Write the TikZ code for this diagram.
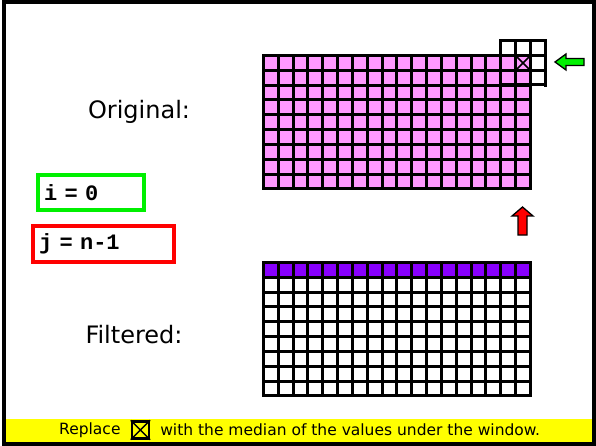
\documentclass[tikz,border=0pt]{standalone}
\usepackage{fontspec}
\setmainfont{DejaVu Sans}
\setmonofont{Liberation Mono}
\usetikzlibrary{positioning}
\definecolor{cellpink}{RGB}{255,153,255}
\definecolor{rowpurple}{RGB}{136,0,255}
\definecolor{boxgreen}{RGB}{0,240,0}
\definecolor{boxred}{RGB}{255,0,0}
\definecolor{baryellow}{RGB}{255,255,0}
\tikzset{
  gridline/.style={line width=3pt, line cap=rect},
  varbox/.style={draw=#1, line width=4pt, align=left, inner xsep=6pt, anchor=north west,
    font=\fontsize{22}{24}\selectfont\ttfamily\bfseries},
  caption/.style={font=\fontsize{24}{28}\selectfont},
  blockarrow/.style={draw=black, line width=1.3pt, line join=miter}
}
\newcommand{\cw}{14.83}

\begin{document}
\begin{tikzpicture}[x=1pt, y=-1pt]
    \useasboundingbox (0,0) rectangle (596,446);
    % frame and bottom bar
    \fill[baryellow] (6,419) rectangle (593,442);
    \draw[line width=4pt] (4,2.5) rectangle (594,444);
    % original image
    \fill[cellpink] (263.5,55.5) rectangle (530.5,188.5);
    \foreach \k in {0,...,18}
        \draw[gridline] ({263.5+round(\k*\cw)},55.5) -- ({263.5+round(\k*\cw)},188.5);
    \foreach \k in {0,...,9}
        \draw[gridline] (263.5,{55.5+round(\k*\cw)}) -- (530.5,{55.5+round(\k*\cw)});
    % window
    \foreach \k in {0,...,3}
        \draw[gridline] ({263.5+round((\k+16)*\cw)},40.5) -- ({263.5+round((\k+16)*\cw)},85.5);
    \foreach \k in {0,...,3}
        \draw[gridline] (500.5,{40.5+round(\k*\cw)}) -- (545.5,{40.5+round(\k*\cw)});
    \draw[line width=1.5pt] (515.5,55.5) -- (530.5,70.5) (530.5,55.5) -- (515.5,70.5);
    % filtered image
    \fill[rowpurple] (263.5,262.5) rectangle (530.5,277.5);
    \foreach \k in {0,...,18}
        \draw[gridline] ({263.5+round(\k*\cw)},262.5) -- ({263.5+round(\k*\cw)},395.5);
    \foreach \k in {0,...,9}
        \draw[gridline] (263.5,{262.5+round(\k*\cw)}) -- (530.5,{262.5+round(\k*\cw)});
    % arrows
    \draw[blockarrow, fill=boxgreen] (555,62) -- (566,54) -- (566,58.5) -- (584,58.5)
        -- (584,65.5) -- (566,65.5) -- (566,70) -- cycle;
    \draw[blockarrow, fill=boxred] (522.5,207) -- (533,216) -- (527,216) -- (527,235)
        -- (518,235) -- (518,216) -- (512,216) -- cycle;
    % labels
    \node[caption] (orig) at (139,112) {Original:};
    \node[caption] (filt) at (134,335) {Filtered:};
    \node[varbox=boxgreen, text width=94pt, minimum height=35pt] (ibox) at (36,173) {i = 0};
    \node[varbox=boxred, text width=129pt, minimum height=36pt] (jbox) at (31,224) {j = n-1};
    % caption in the bar
    \node[font=\fontsize{15.5}{18}\selectfont, anchor=west, inner sep=0pt] (rep) at (59,430) {Replace};
    \node[draw, line width=2.4pt, minimum size=17pt, inner sep=0pt, right=10pt of rep] (icon) {};
    \draw[line width=1.5pt] (icon.north west) -- (icon.south east) (icon.north east) -- (icon.south west);
    \node[font=\fontsize{15.5}{18}\selectfont, inner sep=0pt, right=10pt of icon] (rest)
        {with the median of the values under the window.};
\end{tikzpicture}
\end{document}
